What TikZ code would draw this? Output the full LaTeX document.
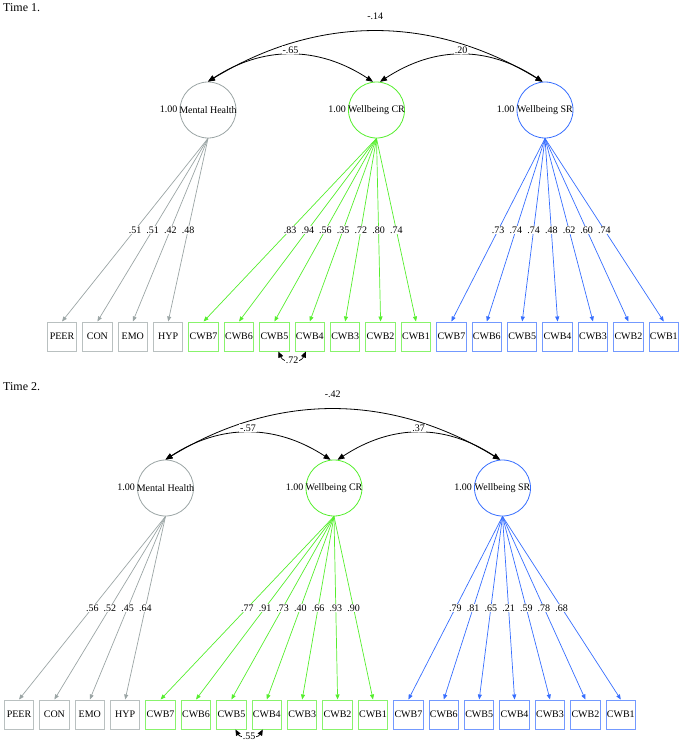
\documentclass[tikz,border=0pt]{standalone}
\usepackage{fontspec}
\setmainfont{Liberation Serif}
\usetikzlibrary{arrows.meta}
\definecolor{MHGray}{RGB}{155,165,165}
\definecolor{CRGreen}{RGB}{85,238,45}
\definecolor{SRBlue}{RGB}{55,110,255}
\tikzset{
  latent/.style={circle,draw=#1,line width=0.8bp,minimum size=56bp,inner sep=0pt,
    label={[inner sep=2bp,yshift=1bp]left:1.00}},
  manifest/.style={rectangle,draw=#1!70,line width=1bp,minimum width=29.5bp,
    minimum height=29bp,inner sep=0pt},
  load/.style={draw=#1,line width=0.7bp,-{Triangle[length=5bp,width=4bp]}},
  corr/.style={line width=0.8bp,{Triangle[length=7bp,width=5.5bp]}-{Triangle[length=7bp,width=5.5bp]}},
  rescorr/.style={line width=0.7bp,{Triangle[length=6bp,width=5bp]}-{Triangle[length=6bp,width=5bp]}},
  est/.style={fill=white,inner sep=1bp},
  heading/.style={anchor=base west,inner sep=0pt,font=\fontsize{12bp}{14bp}\selectfont}
}

\begin{document}
\begin{tikzpicture}[x=1bp,y=-1bp,font=\fontsize{10bp}{12bp}\selectfont]
\useasboundingbox (0,0) rectangle (683,743);

% Time 1
\node[heading] (timeA) at (3,12) {Time 1.};
\node[latent=MHGray] (mhA) at (208,110) {\makebox[0pt]{Mental Health}};
\node[latent=CRGreen] (crA) at (376.5,110) {\makebox[0pt]{Wellbeing CR}};
\node[latent=SRBlue] (srA) at (545,110) {\makebox[0pt]{Wellbeing SR}};

\foreach \nm/\lab/\ld [count=\i from 0] in {peer/PEER/.51,con/CON/.51,emo/EMO/.42,hyp/HYP/.48}{
  \node[manifest=MHGray] (\nm A) at (62+35.4*\i,336.5) {\lab};
  \draw[load=MHGray] (mhA.south) -- node[est] {\ld} (\nm A.north);
}
\foreach \k/\ld [count=\i from 4] in {7/.83,6/.94,5/.56,4/.35,3/.72,2/.80,1/.74}{
  \node[manifest=CRGreen] (crA\k) at (62+35.4*\i,336.5) {CWB\k};
  \draw[load=CRGreen] (crA.south) -- node[est] {\ld} (crA\k.north);
}
\foreach \k/\ld [count=\i from 11] in {7/.73,6/.74,5/.74,4/.48,3/.62,2/.60,1/.74}{
  \node[manifest=SRBlue] (srA\k) at (62+35.4*\i,336.5) {CWB\k};
  \draw[load=SRBlue] (srA.south) -- node[est] {\ld} (srA\k.north);
}

\draw[corr] (mhA.north) .. controls +(110,-67) and +(-110,-67) .. (srA.95)
  node[midway,est,above=10bp] {-.14};
\draw[corr] (mhA.north) .. controls +(55,-36) and +(-55,-36) .. (crA.97)
  node[midway,est,above=0bp] {-.65};
\draw[corr] (crA.83) .. controls +(55,-36) and +(-55,-36) .. (srA.95)
  node[midway,est,above=0bp] {.20};
\draw[rescorr] (crA5.-75) .. controls +(5,12) and +(-5,12) .. (crA4.-105)
  node[midway,est] {.72};

% Time 2
\node[heading] (timeB) at (3,390) {Time 2.};
\node[latent=MHGray] (mhB) at (165.5,488) {\makebox[0pt]{Mental Health}};
\node[latent=CRGreen] (crB) at (334,488) {\makebox[0pt]{Wellbeing CR}};
\node[latent=SRBlue] (srB) at (502.5,488) {\makebox[0pt]{Wellbeing SR}};

\foreach \nm/\lab/\ld [count=\i from 0] in {peer/PEER/.56,con/CON/.52,emo/EMO/.45,hyp/HYP/.64}{
  \node[manifest=MHGray] (\nm B) at (19+35.4*\i,714.5) {\lab};
  \draw[load=MHGray] (mhB.south) -- node[est] {\ld} (\nm B.north);
}
\foreach \k/\ld [count=\i from 4] in {7/.77,6/.91,5/.73,4/.40,3/.66,2/.93,1/.90}{
  \node[manifest=CRGreen] (crB\k) at (19+35.4*\i,714.5) {CWB\k};
  \draw[load=CRGreen] (crB.south) -- node[est] {\ld} (crB\k.north);
}
\foreach \k/\ld [count=\i from 11] in {7/.79,6/.81,5/.65,4/.21,3/.59,2/.78,1/.68}{
  \node[manifest=SRBlue] (srB\k) at (19+35.4*\i,714.5) {CWB\k};
  \draw[load=SRBlue] (srB.south) -- node[est] {\ld} (srB\k.north);
}

\draw[corr] (mhB.north) .. controls +(110,-67) and +(-110,-67) .. (srB.95)
  node[midway,est,above=10bp] {-.42};
\draw[corr] (mhB.north) .. controls +(55,-36) and +(-55,-36) .. (crB.97)
  node[midway,est,above=0bp] {-.57};
\draw[corr] (crB.83) .. controls +(55,-36) and +(-55,-36) .. (srB.95)
  node[midway,est,above=0bp] {.37};
\draw[rescorr] (crB5.-75) .. controls +(5,9) and +(-5,9) .. (crB4.-105)
  node[midway,est] {.55};

\end{tikzpicture}
\end{document}
